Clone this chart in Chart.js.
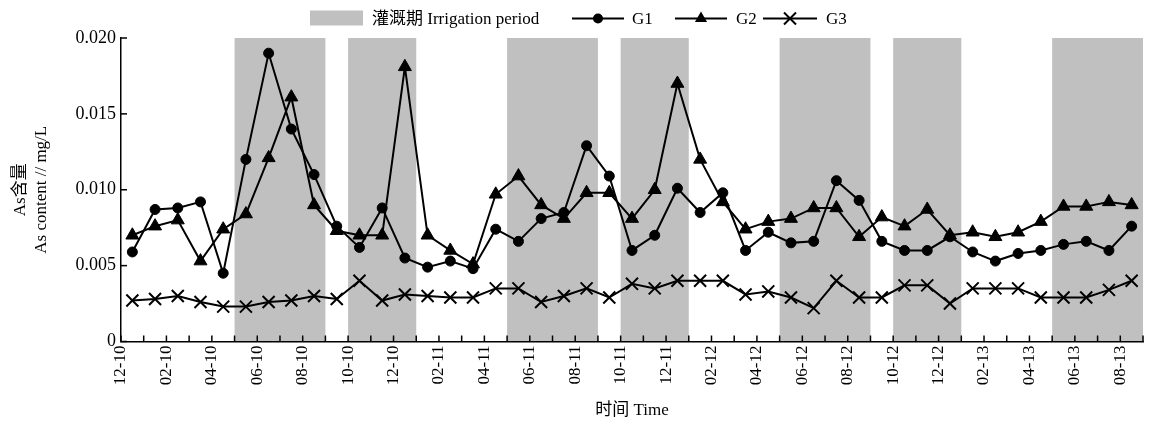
<!DOCTYPE html>
<html>
<head>
<meta charset="utf-8">
<script src="https://cdn.jsdelivr.net/npm/chart.js@4/dist/chart.umd.min.js"></script>
<style>
  html, body { margin: 0; padding: 0; background: #fff; }
  #wrap { width: 1150px; height: 423px; position: relative; }
</style>
</head>
<body>
<div id="wrap"><canvas id="asChart" width="1150" height="423"></canvas></div>
<script>
// ---- data ----
const monthLabels = ['12-10', '02-10', '04-10', '06-10', '08-10', '10-10', '12-10', '02-11', '04-11', '06-11', '08-11', '10-11',
  '12-11', '02-12', '04-12', '06-12', '08-12', '10-12', '12-12', '02-13', '04-13', '06-13', '08-13'];

const g1 = [0.0059, 0.0087, 0.0088, 0.0092, 0.0045, 0.0120, 0.0190, 0.0140, 0.0110, 0.0076, 0.0062, 0.0088,
  0.0055, 0.0049, 0.0053, 0.0048, 0.0074, 0.0066, 0.0081, 0.0085, 0.0129, 0.0109, 0.0060, 0.0070,
  0.0101, 0.0085, 0.0098, 0.0060, 0.0072, 0.0065, 0.0066, 0.0106, 0.0093, 0.0066, 0.0060, 0.0060,
  0.0069, 0.0059, 0.0053, 0.0058, 0.0060, 0.0064, 0.0066, 0.0060, 0.0076];

const g2 = [0.0070, 0.0076, 0.0080, 0.0053, 0.0074, 0.0084, 0.0121, 0.0161, 0.0090, 0.0073, 0.0070, 0.0070,
  0.0181, 0.0070, 0.0060, 0.0051, 0.0097, 0.0109, 0.0090, 0.0081, 0.0098, 0.0098, 0.0081, 0.0100,
  0.0170, 0.0120, 0.0092, 0.0074, 0.0079, 0.0081, 0.0088, 0.0088, 0.0069, 0.0082, 0.0076, 0.0087,
  0.0070, 0.0072, 0.0069, 0.0072, 0.0079, 0.0089, 0.0089, 0.0092, 0.0090];

const g3 = [0.0027, 0.0028, 0.0030, 0.0026, 0.0023, 0.0023, 0.0026, 0.0027, 0.0030, 0.0028, 0.0040, 0.0027,
  0.0031, 0.0030, 0.0029, 0.0029, 0.0035, 0.0035, 0.0026, 0.0030, 0.0035, 0.0029, 0.0038, 0.0035,
  0.0040, 0.0040, 0.0040, 0.0031, 0.0033, 0.0029, 0.0022, 0.0040, 0.0029, 0.0029, 0.0037, 0.0037,
  0.0025, 0.0035, 0.0035, 0.0035, 0.0029, 0.0029, 0.0029, 0.0034, 0.0040];

// irrigation periods, as [start month, end month] counted from the first tick
const irrigationPeriods = [[5, 9], [10, 13], [17, 21], [22, 25], [29, 33], [34, 37], [41, 45]];

const yTicks = [0, 0.005, 0.010, 0.015, 0.020];

const FONT = "'Liberation Serif', 'Noto Sans CJK SC', serif";
const toPoints = arr => arr.map((v, i) => ({ x: i + 0.5, y: v }));

// gray bands behind the lines
const shadePlugin = {
  id: 'shade',
  beforeDraw(chart) {
    const { ctx, chartArea: a, scales: { x } } = chart;
    ctx.save();
    ctx.fillStyle = '#c0c0c0';
    irrigationPeriods.forEach(([s, e]) => {
      const x0 = x.getPixelForValue(s), x1 = x.getPixelForValue(e);
      ctx.fillRect(x0, a.top, x1 - x0, a.bottom - a.top);
    });
    ctx.restore();
  }
};

// inward tick marks + custom legend
const decorPlugin = {
  id: 'decor',
  afterDraw(chart) {
    const { ctx, chartArea: a, scales: { x, y } } = chart;
    ctx.save();
    ctx.strokeStyle = '#000';
    ctx.lineWidth = 1.5;
    x.ticks.forEach(t => {
      const px = x.getPixelForValue(t.value);
      ctx.beginPath(); ctx.moveTo(px, a.bottom); ctx.lineTo(px, a.bottom - 6); ctx.stroke();
    });
    y.ticks.forEach(t => {
      const py = y.getPixelForValue(t.value);
      ctx.beginPath(); ctx.moveTo(a.left, py); ctx.lineTo(a.left + 6, py); ctx.stroke();
    });

    // legend
    const cy = 18.5;
    ctx.font = '17px ' + FONT;
    ctx.textBaseline = 'middle';
    ctx.fillStyle = '#c0c0c0';
    ctx.fillRect(310, 10.5, 53, 15);
    ctx.fillStyle = '#000';
    ctx.fillText('灌溉期 Irrigation period', 372, cy + 1);

    const items = [
      { x0: 572, x1: 624, label: 'G1', lx: 632, style: 'circle' },
      { x0: 675, x1: 727, label: 'G2', lx: 736, style: 'triangle' },
      { x0: 763, x1: 817, label: 'G3', lx: 826, style: 'cross' }
    ];
    items.forEach(it => {
      ctx.lineWidth = 2;
      ctx.beginPath(); ctx.moveTo(it.x0, cy); ctx.lineTo(it.x1, cy); ctx.stroke();
      const mx = (it.x0 + it.x1) / 2;
      ctx.beginPath();
      if (it.style === 'circle') {
        ctx.arc(mx, cy, 5, 0, Math.PI * 2); ctx.fill();
      } else if (it.style === 'triangle') {
        const r = 7;
        ctx.moveTo(mx, cy - r);
        ctx.lineTo(mx + r * 0.866, cy + r * 0.5);
        ctx.lineTo(mx - r * 0.866, cy + r * 0.5);
        ctx.closePath(); ctx.fill();
      } else {
        const d = 6;
        ctx.moveTo(mx - d, cy - d); ctx.lineTo(mx + d, cy + d);
        ctx.moveTo(mx + d, cy - d); ctx.lineTo(mx - d, cy + d);
        ctx.stroke();
      }
      ctx.fillText(it.label, it.lx, cy + 1);
    });
    ctx.restore();
  }
};

const lineStyle = { borderColor: '#000', backgroundColor: '#000', borderWidth: 2, pointBorderColor: '#000', pointBackgroundColor: '#000', tension: 0 };

new Chart(document.getElementById('asChart'), {
  type: 'line',
  data: {
    datasets: [
      { ...lineStyle, label: 'G1', data: toPoints(g1), pointStyle: 'circle', pointRadius: 5, pointBorderWidth: 1 },
      { ...lineStyle, label: 'G2', data: toPoints(g2), pointStyle: 'triangle', pointRadius: 7.5, pointBorderWidth: 1 },
      { ...lineStyle, label: 'G3', data: toPoints(g3), pointStyle: 'crossRot', pointRadius: 8.5, pointBorderWidth: 2 }
    ]
  },
  options: {
    responsive: false,
    animation: false,
    devicePixelRatio: 1,
    layout: { autoPadding: false, padding: { left: 0, right: 7, top: 38, bottom: 0 } },
    plugins: { legend: { display: false }, tooltip: { enabled: false } },
    scales: {
      x: {
        type: 'linear', min: 0, max: 45,
        afterBuildTicks: s => { s.ticks = Array.from({ length: 46 }, (_, i) => ({ value: i })); },
        afterFit: s => { s.height = 81.5; s.paddingLeft = 0; s.paddingRight = 0; },
        grid: { display: true, drawOnChartArea: false, drawTicks: false },
        border: { color: '#000', width: 1.5 },
        ticks: {
          autoSkip: false, minRotation: 90, maxRotation: 90, padding: 4,
          color: '#000', font: { family: FONT, size: 17 },
          callback: v => (v % 2 === 0 && monthLabels[v / 2] !== undefined) ? monthLabels[v / 2] : ''
        },
        title: { display: true, text: '时间 Time', color: '#000', font: { family: FONT, size: 17 }, padding: { top: 0, bottom: 2 } }
      },
      y: {
        min: 0, max: 0.02,
        afterBuildTicks: s => { s.ticks = yTicks.map(v => ({ value: v })); },
        afterFit: s => { s.width = 121; },
        grid: { display: true, drawOnChartArea: false, drawTicks: false },
        border: { color: '#000', width: 1.5 },
        ticks: {
          padding: 5, color: '#000', font: { family: FONT, size: 18 },
          callback: v => v === 0 ? '0' : v.toFixed(3)
        },
        title: { display: true, text: ['As含量', 'As content // mg/L'], color: '#000', font: { family: FONT, size: 17, lineHeight: 1.25 }, padding: { top: 9.5, bottom: 0 } }
      }
    }
  },
  plugins: [shadePlugin, decorPlugin]
});
</script>
</body>
</html>
